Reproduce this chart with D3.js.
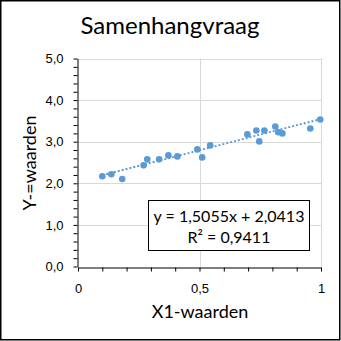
<!DOCTYPE html>
<html>
<head>
<meta charset="utf-8">
<script src="https://cdn.jsdelivr.net/npm/d3@7"></script>
<style>
  html, body { margin: 0; padding: 0; background: #fff; }
  svg { display: block; font-family: Lato, "Open Sans", sans-serif; }
</style>
</head>
<body>
<svg id="chart" width="341" height="341"></svg>
<script>
// Observations (X1, Y)
const xValues = [0.100, 0.137, 0.182, 0.270, 0.285, 0.334, 0.372, 0.409, 0.491, 0.511,
                 0.544, 0.697, 0.734, 0.746, 0.767, 0.812, 0.824, 0.841, 0.956, 0.997];
const yValues = [2.168, 2.216, 2.103, 2.432, 2.576, 2.576, 2.671, 2.647, 2.815, 2.623,
                 2.911, 3.175, 3.271, 3.007, 3.271, 3.367, 3.230, 3.199, 3.319, 3.535];

// Linear trendline coefficients
const slope = 1.5055;
const intercept = 2.0413;
const rSquared = 0.9411;

const xTicks = [0, 0.5, 1];
const yTicks = [0, 1, 2, 3, 4, 5];

const title = "Samenhangvraag";
const xTitle = "X1-waarden";
const yTitle = "Y-=waarden";

const fmtNl = (v, d) => v.toFixed(d).replace(".", ",");

const svg = d3.select("#chart");
const blue = "#5B9BD5";

// Outer frame
svg.append("rect")
  .attr("x", 0.75).attr("y", 0.75)
  .attr("width", 339).attr("height", 339)
  .attr("fill", "#fff").attr("stroke", "#000").attr("stroke-width", 1.5);

const x = d3.scaleLinear().domain([0, 1]).range([78, 321]);
const y = d3.scaleLinear().domain([0, 5]).range([266.5, 58.5]);

// Gridlines
const grid = svg.append("g").attr("stroke", "#D9D9D9").attr("stroke-width", 1);
grid.selectAll("line.h").data(yTicks.filter(t => t > 0)).join("line")
  .attr("x1", x(0)).attr("x2", x(1))
  .attr("y1", d => Math.round(y(d)) + 0.5).attr("y2", d => Math.round(y(d)) + 0.5);
grid.selectAll("line.v").data(xTicks.filter(t => t > 0)).join("line")
  .attr("x1", d => Math.round(x(d)) + 0.5).attr("x2", d => Math.round(x(d)) + 0.5)
  .attr("y1", y(0)).attr("y2", y(5));

// Axes: major ticks labelled, minor ticks unlabelled
const xAxis = d3.axisBottom(x)
  .tickValues(d3.range(0, 1.0001, 0.1))
  .tickSize(4).tickSizeOuter(0)
  .tickFormat(d => xTicks.some(t => Math.abs(t - d) < 1e-9) ? (d === 0 || d === 1 ? String(d) : fmtNl(d, 1)) : "");
const gx = svg.append("g")
  .attr("transform", `translate(0,${Math.round(y(0)) + 0.5})`)
  .call(xAxis);
gx.select(".domain").attr("stroke", "#000");
gx.selectAll(".tick line").attr("stroke", "#000");
gx.selectAll(".tick text").attr("font-size", 13).attr("fill", "#000").attr("dy", "0.9em").attr("y", 14);

const yAxis = d3.axisLeft(y)
  .tickValues(d3.range(0, 5.0001, 0.2))
  .tickSize(4).tickSizeOuter(0)
  .tickFormat(d => yTicks.some(t => Math.abs(t - d) < 1e-9) ? fmtNl(d, 1) : "");
const gy = svg.append("g")
  .attr("transform", `translate(${Math.round(x(0)) - 0.5},0)`)
  .call(yAxis);
gy.select(".domain").attr("stroke", "#000");
gy.selectAll(".tick line").attr("stroke", "#000");
gy.selectAll(".tick text").attr("font-size", 13).attr("fill", "#000").attr("x", -14);

// Trendline over the observed X range
const xMin = d3.min(xValues), xMax = d3.max(xValues);
svg.append("line")
  .attr("x1", x(xMin)).attr("y1", y(slope * xMin + intercept))
  .attr("x2", x(xMax)).attr("y2", y(slope * xMax + intercept))
  .attr("stroke", blue).attr("stroke-width", 2)
  .attr("stroke-dasharray", "2,2");

// Points
svg.append("g").selectAll("circle")
  .data(d3.zip(xValues, yValues))
  .join("circle")
  .attr("cx", d => x(d[0])).attr("cy", d => y(d[1]))
  .attr("r", 3.3).attr("fill", blue);

// Equation label
const eq = svg.append("g");
eq.append("rect")
  .attr("x", 148.5).attr("y", 200.5).attr("width", 161).attr("height", 50)
  .attr("fill", "#fff").attr("stroke", "#000").attr("stroke-width", 1);
eq.append("text")
  .attr("x", 229).attr("y", 221.5).attr("text-anchor", "middle")
  .attr("font-size", 16).attr("fill", "#000")
  .text(`y = ${fmtNl(slope, 4)}x + ${fmtNl(intercept, 4)}`);
eq.append("text")
  .attr("x", 229).attr("y", 243).attr("text-anchor", "middle")
  .attr("font-size", 16).attr("fill", "#000")
  .text(`R² = ${fmtNl(rSquared, 4)}`);

// Titles
svg.append("text")
  .attr("x", 170).attr("y", 34).attr("text-anchor", "middle")
  .attr("font-size", 24).attr("fill", "#000").text(title);
svg.append("text")
  .attr("x", 200).attr("y", 318).attr("text-anchor", "middle")
  .attr("font-size", 18).attr("fill", "#000").text(xTitle);
svg.append("text")
  .attr("transform", "translate(35.5,163) rotate(-90)")
  .attr("text-anchor", "middle")
  .attr("font-size", 18).attr("fill", "#000").text(yTitle);
</script>
</body>
</html>
